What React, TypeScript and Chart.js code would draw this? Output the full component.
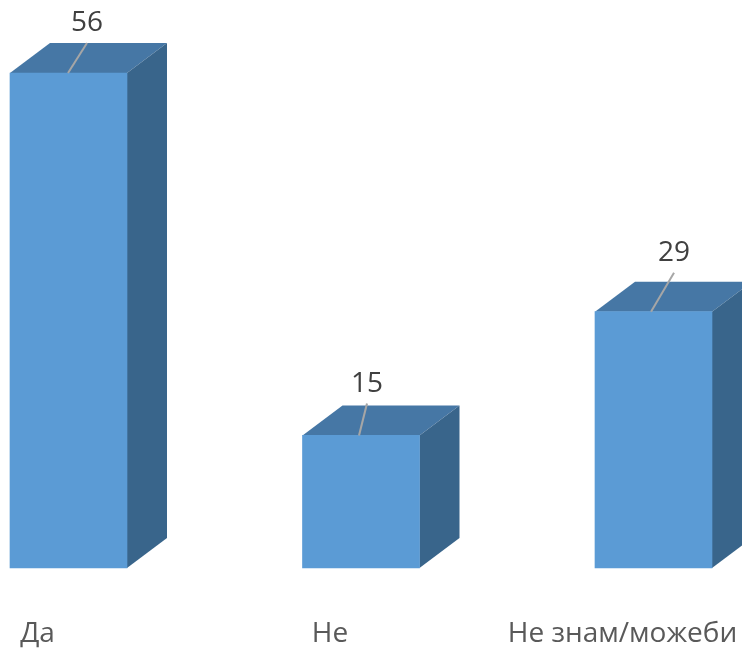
import React, { useEffect, useRef } from "react";
import { Chart, registerables } from "chart.js";

Chart.register(...registerables);

const categories = ["Да", "Не", "Не знам/можеби"];
const values = [56, 15, 29];

const FONT = '"Open Sans", sans-serif';
const FRONT = "#5B9BD5";
const TOP = "#4677A5";
const SIDE = "#39658B";
const DEPTH_X = 40;
const DEPTH_Y = 30;
// Leader offsets from the top-centre of each bar to its label.
const leaderStartX = [-0.5, -2, -2.5];
const labelShiftX = [18.5, 6, 20.5];
const leaderRise = [30, 32, 39];
const labelGap = [20, 19.5, 20];

const box3d = {
  id: "box3d",
  beforeDatasetsDraw(chart: any) {
    const { ctx } = chart;
    chart.getDatasetMeta(0).data.forEach((bar: any) => {
      const p = bar.getProps(["x", "y", "base", "width"], true);
      const l = p.x - p.width / 2;
      const r = p.x + p.width / 2;
      ctx.save();
      ctx.fillStyle = TOP;
      ctx.beginPath();
      ctx.moveTo(l, p.y);
      ctx.lineTo(l + DEPTH_X, p.y - DEPTH_Y);
      ctx.lineTo(r + DEPTH_X, p.y - DEPTH_Y);
      ctx.lineTo(r, p.y);
      ctx.closePath();
      ctx.fill();
      ctx.fillStyle = SIDE;
      ctx.beginPath();
      ctx.moveTo(r, p.y);
      ctx.lineTo(r + DEPTH_X, p.y - DEPTH_Y);
      ctx.lineTo(r + DEPTH_X, p.base - DEPTH_Y);
      ctx.lineTo(r, p.base);
      ctx.closePath();
      ctx.fill();
      ctx.restore();
    });
  },
  afterDatasetsDraw(chart: any) {
    const { ctx } = chart;
    chart.getDatasetMeta(0).data.forEach((bar: any, i: number) => {
      const p = bar.getProps(["x", "y"], true);
      const tx = p.x + labelShiftX[i];
      const ty = p.y - leaderRise[i];
      ctx.save();
      ctx.strokeStyle = "#A6A6A6";
      ctx.lineWidth = 2;
      ctx.beginPath();
      ctx.moveTo(p.x + leaderStartX[i], p.y);
      ctx.lineTo(tx, ty);
      ctx.stroke();
      ctx.fillStyle = "#404040";
      ctx.font = `28px ${FONT}`;
      ctx.textAlign = "center";
      ctx.textBaseline = "middle";
      ctx.fillText(String(values[i]), tx, ty - labelGap[i]);
      ctx.restore();
    });
  },
};

export default function App() {
  const ref = useRef<HTMLCanvasElement>(null);
  useEffect(() => {
    const chart = new Chart(ref.current!, {
      type: "bar",
      data: {
        labels: categories,
        datasets: [
          {
            data: values,
            backgroundColor: FRONT,
            barThickness: 117,
            borderWidth: 0,
            clip: false as any,
          },
        ],
      },
      options: {
        responsive: false,
        animation: false,
        layout: { padding: { left: 68.5, right: 88.5, top: 37.6, bottom: 0 } },
        plugins: { legend: { display: false }, tooltip: { enabled: false } },
        scales: {
          x: {
            offset: false,
            grid: { display: false },
            border: { display: false },
            ticks: {
              autoSkip: false,
              maxRotation: 0,
              minRotation: 0,
              labelOffset: -31,
              padding: 41,
              color: "#595959",
              font: { family: FONT, size: 28, lineHeight: 1.2 },
            },
            afterFit(s: any) {
              s.height = 80;
              s.paddingLeft = 0;
              s.paddingRight = 0;
            },
          },
          y: { display: false, min: 0, max: 60 },
        },
      },
      plugins: [box3d],
    });
    return () => chart.destroy();
  }, []);
  return (
    <div style={{ position: "absolute", left: 0, top: 0, width: 742, height: 648 }}>
      <canvas ref={ref} width={742} height={648} style={{ display: "block" }} />
    </div>
  );
}
